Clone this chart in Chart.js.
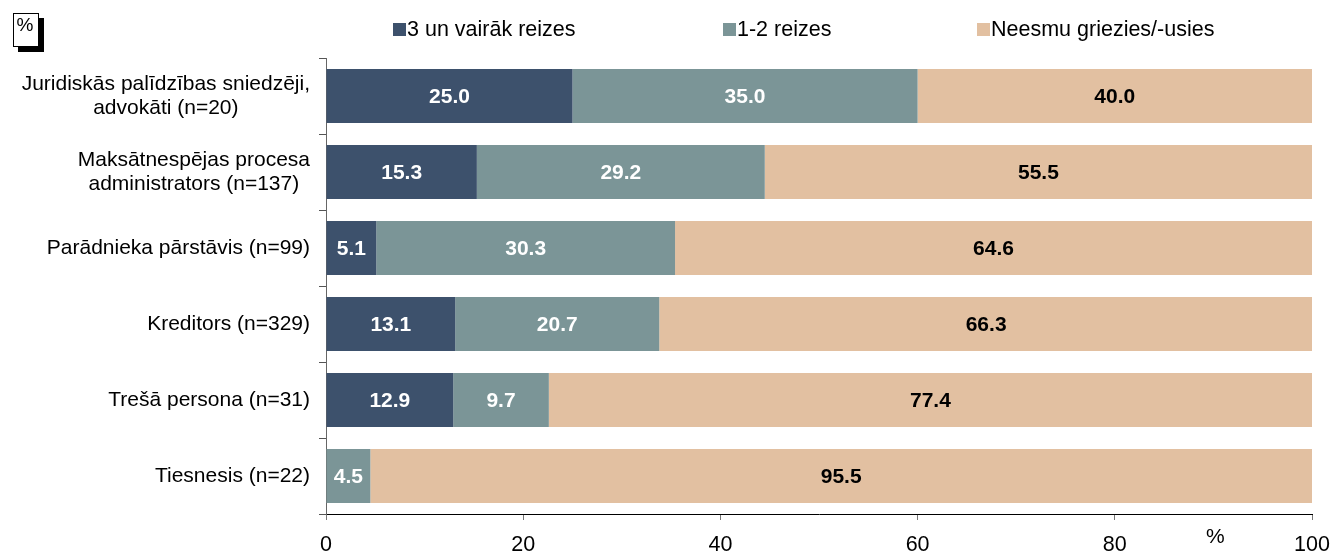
<!DOCTYPE html>
<html>
<head>
<meta charset="utf-8">
<script src="https://cdn.jsdelivr.net/npm/chart.js@4/dist/chart.umd.min.js"></script>
<style>
  html, body { margin: 0; padding: 0; background: #fff; }
  #wrap { width: 1333px; height: 552px; position: relative; }
</style>
</head>
<body>
<div id="wrap"><canvas id="chart"></canvas></div>
<script>
// Data
const categories = [
    ['Juridiskās palīdzības sniedzēji,', 'advokāti (n=20)'],
    ['Maksātnespējas procesa', 'administrators (n=137)'],
    ['Parādnieka pārstāvis (n=99)'],
    ['Kreditors (n=329)'],
    ['Trešā persona (n=31)'],
    ['Tiesnesis (n=22)']
];
const seriesNames = ['3 un vairāk reizes', '1-2 reizes', 'Neesmu griezies/-usies'];
const moreTimes = [25.0, 15.3, 5.1, 13.1, 12.9, 0];
const oneTwoTimes = [35.0, 29.2, 30.3, 20.7, 9.7, 4.5];
const never = [40.0, 55.5, 64.6, 66.3, 77.4, 95.5];
const xTicks = [0, 20, 40, 60, 80, 100];

const colors = ['#3d516c', '#7b9597', '#e2c0a1'];
const labelColors = ['#ffffff', '#ffffff', '#000000'];
const FONT = '"Liberation Sans", Arial, sans-serif';

// draws value labels, y labels, legend and the % boxes
const extras = {
    id: 'extras',
    afterDatasetsDraw(chart) {
        const ctx = chart.ctx;
        ctx.save();
        ctx.font = 'bold 21px ' + FONT;
        ctx.textAlign = 'center';
        ctx.textBaseline = 'middle';
        chart.data.datasets.forEach(function(ds, di) {
            const meta = chart.getDatasetMeta(di);
            meta.data.forEach(function(bar, i) {
                const v = ds.data[i];
                if (!v) return;
                ctx.fillStyle = labelColors[di];
                ctx.fillText(v.toFixed(1), (bar.x + bar.base) / 2, bar.y + 1);
            });
        });
        ctx.restore();
    },
    afterDraw(chart) {
        const ctx = chart.ctx;
        const yScale = chart.scales.y;
        const xScale = chart.scales.x;
        ctx.save();

        // category labels: block right aligned, lines centred inside it
        ctx.font = '21px ' + FONT;
        ctx.fillStyle = '#000';
        ctx.textBaseline = 'middle';
        ctx.textAlign = 'center';
        const right = yScale.right - 16;
        categories.forEach(function(lines, i) {
            const y = yScale.getPixelForValue(i);
            const w = Math.max.apply(null, lines.map(function(l) { return ctx.measureText(l).width; }));
            const cx = right - w / 2;
            const lh = 24;
            const start = y - (lines.length - 1) * lh / 2;
            lines.forEach(function(l, k) {
                ctx.fillText(l, cx, start + k * lh);
            });
        });

        // legend
        const legendX = [393, 723, 977];
        ctx.textAlign = 'left';
        ctx.font = '21.5px ' + FONT;
        seriesNames.forEach(function(name, i) {
            ctx.fillStyle = colors[i];
            ctx.fillRect(legendX[i], 23, 13, 13);
            ctx.fillStyle = '#000';
            ctx.fillText(name, legendX[i] + 14, 30);
        });

        // % box top left
        ctx.fillStyle = '#000';
        ctx.fillRect(18, 18, 26, 34);
        ctx.fillStyle = '#fff';
        ctx.fillRect(13, 13, 26, 34);
        ctx.strokeStyle = '#000';
        ctx.lineWidth = 1;
        ctx.strokeRect(13.5, 13.5, 25, 33);
        ctx.fillStyle = '#000';
        ctx.font = '19px ' + FONT;
        ctx.textAlign = 'center';
        ctx.fillText('%', 25, 26);

        // % unit near x axis
        ctx.font = '21px ' + FONT;
        ctx.fillText('%', xScale.getPixelForValue(90.2), 537);
        ctx.restore();
    }
};

new Chart(document.getElementById('chart'), {
    type: 'bar',
    data: {
        labels: categories.map(function(c) { return c.join(' '); }),
        datasets: [
            { label: seriesNames[0], data: moreTimes, backgroundColor: colors[0] },
            { label: seriesNames[1], data: oneTwoTimes, backgroundColor: colors[1] },
            { label: seriesNames[2], data: never, backgroundColor: colors[2] }
        ]
    },
    options: {
        indexAxis: 'y',
        responsive: true,
        maintainAspectRatio: false,
        animation: false,
        layout: { padding: { top: 58, right: 21, left: 0, bottom: 0 } },
        datasets: {
            bar: { barPercentage: 0.71, categoryPercentage: 1.0 }
        },
        plugins: {
            legend: { display: false },
            tooltip: { enabled: false }
        },
        scales: {
            x: {
                stacked: true,
                min: 0,
                max: 100,
                afterBuildTicks: function(scale) {
                    scale.ticks = xTicks.map(function(v) { return { value: v }; });
                },
                afterFit: function(scale) {
                    scale.height = 38;
                    scale.paddingLeft = 0;
                    scale.paddingRight = 0;
                },
                border: { display: true, color: '#000', width: 1 },
                grid: {
                    display: true,
                    drawOnChartArea: false,
                    drawTicks: true,
                    tickLength: 6,
                    color: '#777'
                },
                ticks: {
                    color: '#000',
                    padding: 12,
                    font: { family: FONT, size: 21.5 }
                }
            },
            y: {
                stacked: true,
                afterFit: function(scale) { scale.width = 326; },
                border: { display: true, color: '#666', width: 1 },
                grid: {
                    display: true,
                    offset: true,
                    drawOnChartArea: false,
                    drawTicks: true,
                    tickLength: 7,
                    color: '#555'
                },
                ticks: { display: false }
            }
        }
    },
    plugins: [extras]
});
</script>
</body>
</html>
